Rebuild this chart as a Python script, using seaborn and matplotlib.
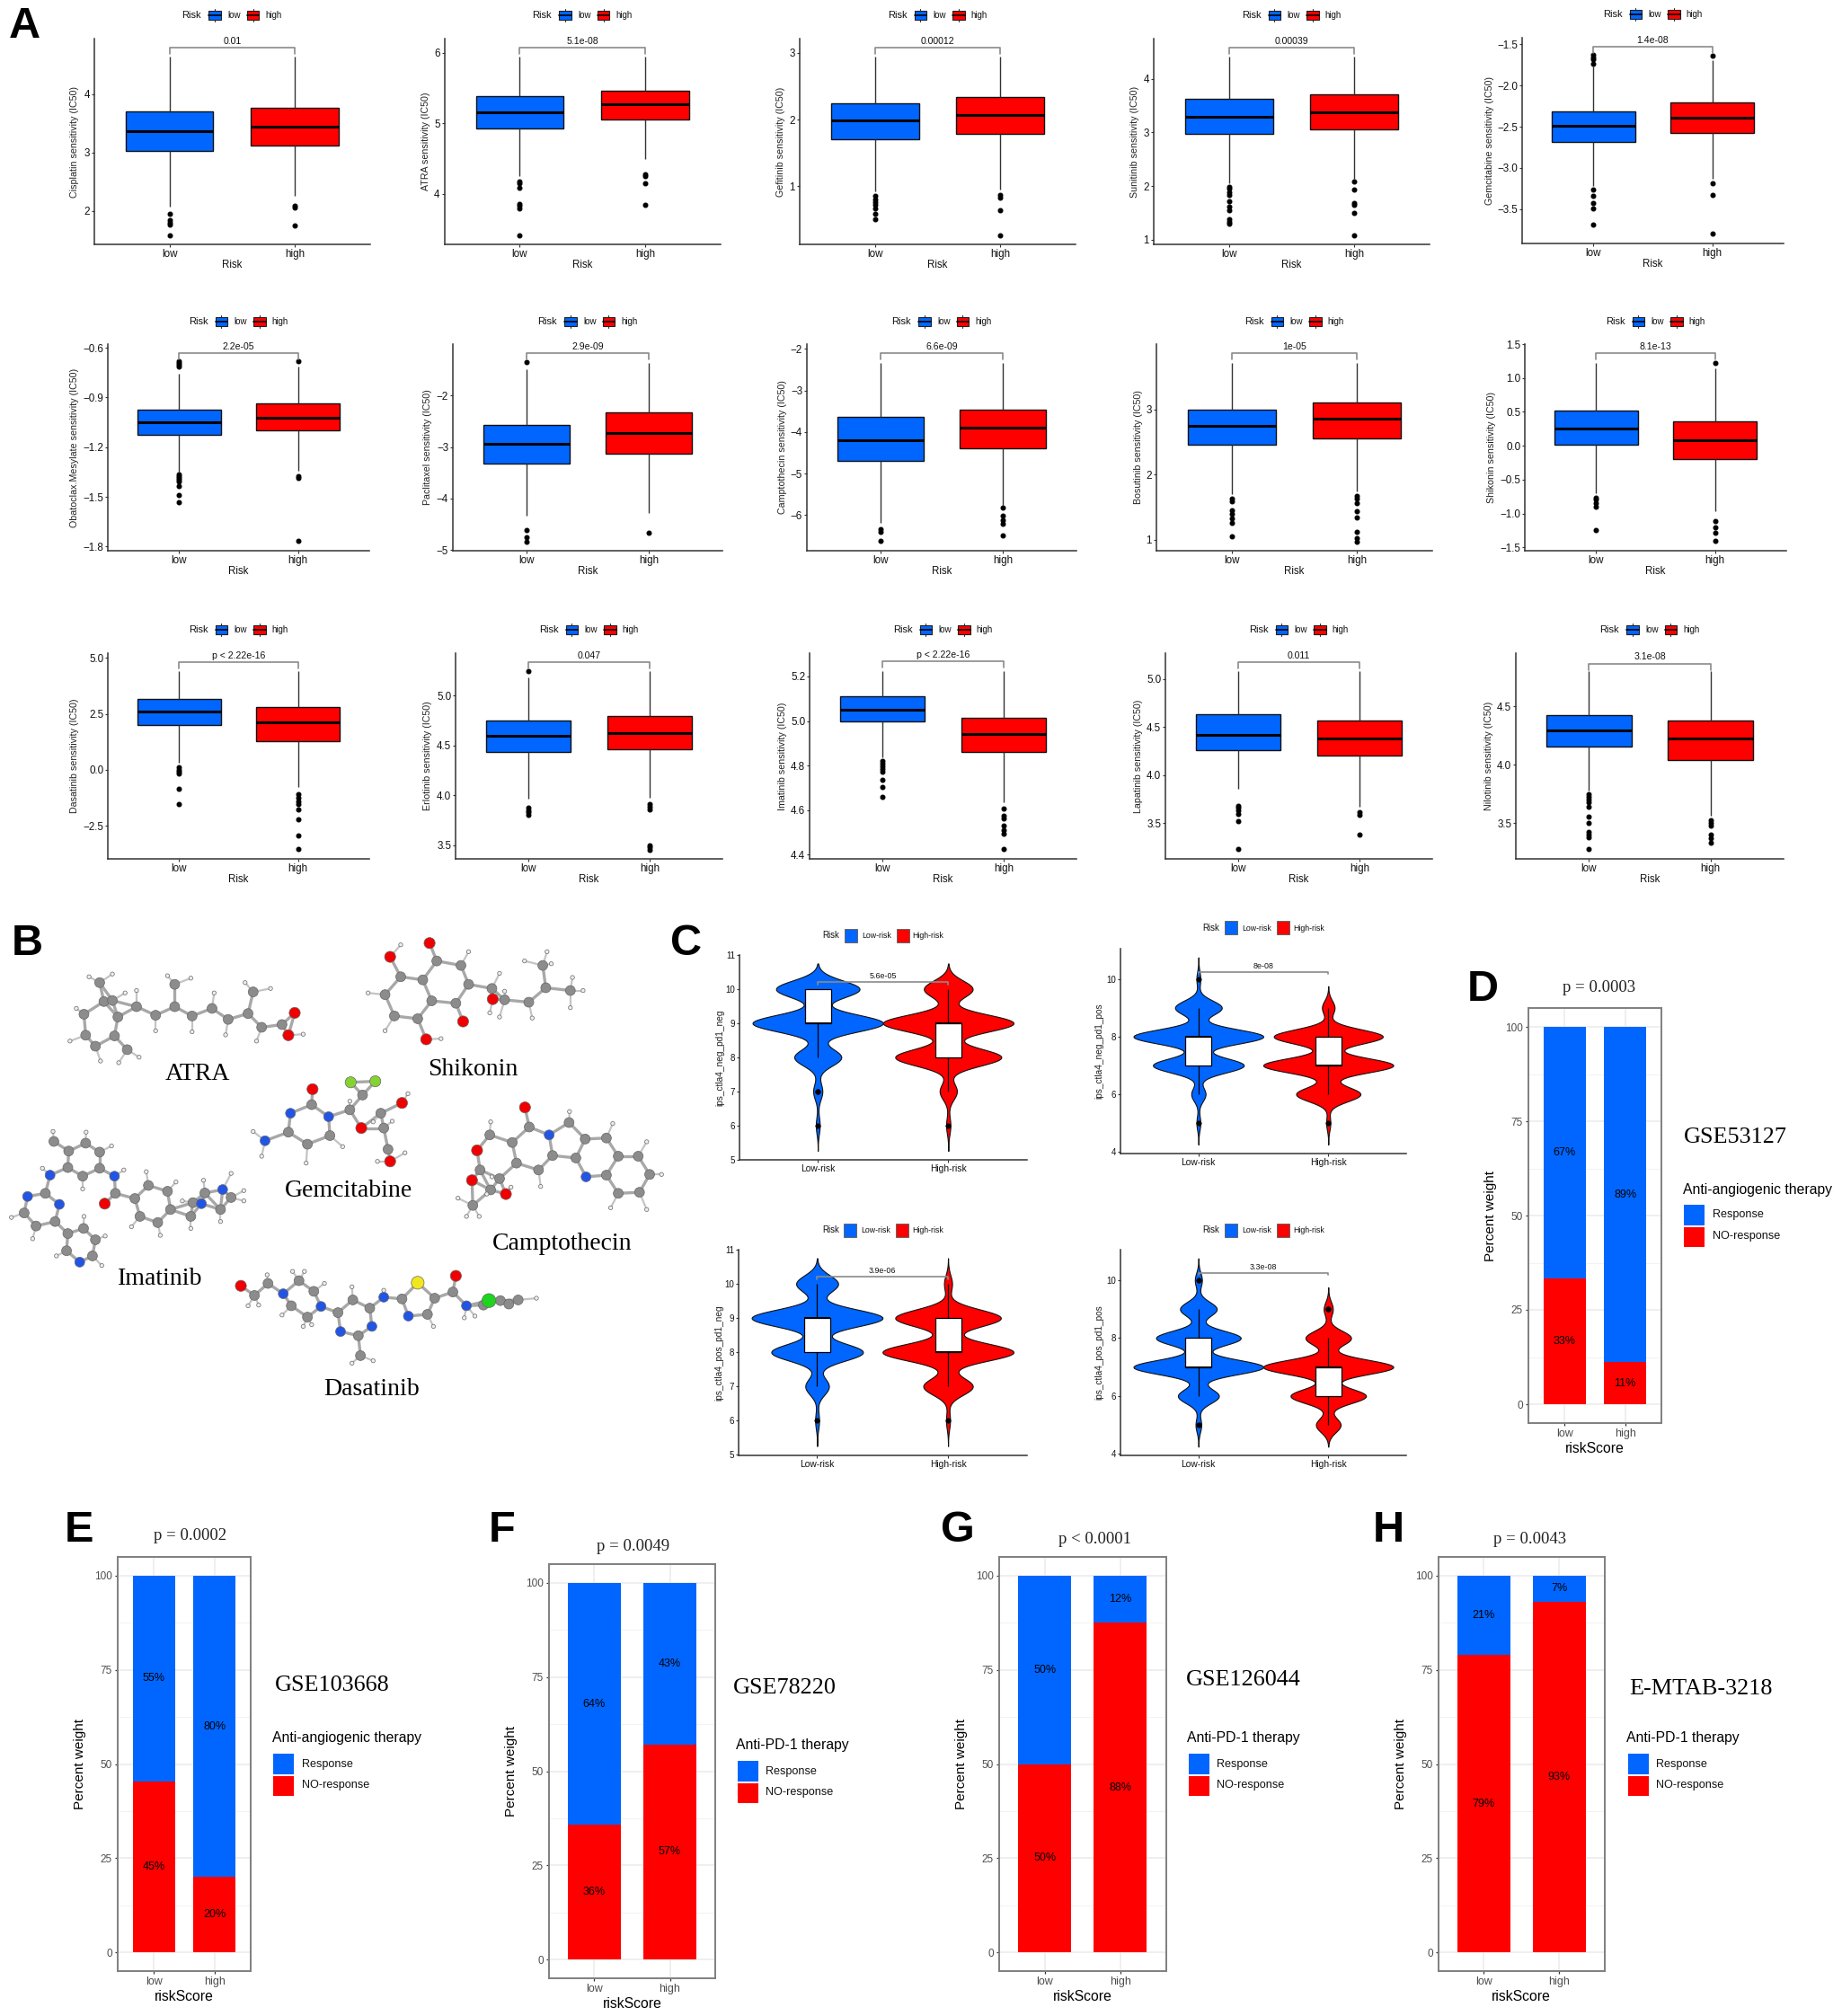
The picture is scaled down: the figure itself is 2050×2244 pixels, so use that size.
import numpy as np
import pandas as pd
import matplotlib
matplotlib.use("Agg")
import matplotlib.pyplot as plt
from matplotlib.patches import Rectangle
from matplotlib.lines import Line2D
import seaborn as sns

W, H = 2050, 2244
BLUE, RED = "#0066FF", "#FF0000"
SANS = ["Liberation Sans", "DejaVu Sans"]
SERIF = ["Liberation Serif", "DejaVu Serif"]

sns.set_theme(style="ticks")
plt.rcParams["font.family"] = SANS
plt.rcParams["axes.unicode_minus"] = True

# ---------------- panel A data -----------------
DRUGS = ["Cisplatin", "ATRA", "Gefitinib", "Sunitinib", "Gemcitabine",
         "Obatoclax.Mesylate", "Paclitaxel", "Camptothecin", "Bosutinib", "Shikonin",
         "Dasatinib", "Erlotinib", "Imatinib", "Lapatinib", "Nilotinib"]
P_LABELS = ["0.01", "5.1e-08", "0.00012", "0.00039", "1.4e-08",
            "2.2e-05", "2.9e-09", "6.6e-09", "1e-05", "8.1e-13",
            "p < 2.22e-16", "0.047", "p < 2.22e-16", "0.011", "3.1e-08"]
# whisker low, q1, median, q3, whisker high
LOW_STATS = [[2.07, 3.03, 3.364, 3.713, 4.646], [4.248, 4.928, 5.161, 5.386, 5.947],
             [0.919, 1.70, 1.987, 2.247, 2.946], [2.061, 2.972, 3.284, 3.627, 4.412],
             [-3.22, -2.681, -2.489, -2.315, -1.771],
             [-1.35, -1.125, -1.052, -0.973, -0.759], [-4.33, -3.326, -2.936, -2.58, -1.488],
             [-6.195, -4.686, -4.195, -3.632, -2.332], [1.703, 2.462, 2.752, 3.0, 3.717],
             [-0.704, 0.013, 0.257, 0.522, 1.226],
             [0.307, 1.992, 2.607, 3.168, 4.412], [3.964, 4.434, 4.599, 4.749, 5.186],
             [4.835, 4.996, 5.052, 5.112, 5.224], [3.854, 4.255, 4.422, 4.63, 5.08],
             [3.776, 4.156, 4.295, 4.426, 4.803]]
HIGH_STATS = [[2.25, 3.123, 3.45, 3.774, 4.646], [4.495, 5.059, 5.276, 5.467, 5.947],
              [0.955, 1.785, 2.067, 2.345, 2.946], [2.145, 3.06, 3.372, 3.71, 4.412],
              [-3.135, -2.579, -2.394, -2.205, -1.69],
              [-1.344, -1.10, -1.02, -0.935, -0.714], [-4.279, -3.128, -2.727, -2.337, -1.366],
              [-5.747, -4.397, -3.899, -3.473, -2.332], [1.749, 2.559, 2.853, 3.10, 3.717],
              [-0.96, -0.199, 0.088, 0.354, 1.146],
              [-0.762, 1.283, 2.112, 2.794, 4.412], [3.973, 4.461, 4.626, 4.796, 5.246],
              [4.633, 4.86, 4.941, 5.015, 5.224], [3.668, 4.201, 4.382, 4.571, 5.08],
              [3.559, 4.038, 4.226, 4.379, 4.803]]
LOW_FLIERS = [[1.95, 1.84, 1.79, 1.76, 1.585],
              [4.176, 4.146, 4.08, 3.851, 3.825, 3.796, 3.414],
              [.852, .807, .762, .717, .672, .583, .507],
              [1.98, 1.95, 1.894, 1.839, 1.716, 1.616, 1.544, 1.378, 1.339, 1.30],
              [-1.631, -1.656, -1.681, -1.735, -3.266, -3.334, -3.425, -3.49, -3.69],
              [-.683, -.694, -.705, -.716, -1.366, -1.375, -1.386, -1.397, -1.408, -1.434, -1.489, -1.53],
              [-1.36, -4.616, -4.744, -4.83],
              [-6.347, -6.397, -6.63],
              [1.634, 1.598, 1.451, 1.405, 1.336, 1.267, 1.06],
              [-.765, -.80, -.845, -.898, -1.239],
              [.12, 0, -.094, -.174, -.856, -1.551],
              [5.246, 3.877, 3.853, 3.83, 3.803],
              [4.82, 4.808, 4.795, 4.782, 4.772, 4.734, 4.704, 4.657],
              [3.685, 3.662, 3.631, 3.60, 3.519, 3.23],
              [3.745, 3.726, 3.70, 3.674, 3.641, 3.551, 3.503, 3.426, 3.40, 3.374, 3.274]]
HIGH_FLIERS = [[2.08, 2.06, 1.75],
               [4.283, 4.248, 4.146, 3.845],
               [.874, .83, .646, .269],
               [2.08, 1.934, 1.684, 1.66, 1.506, 1.089],
               [-1.635, -3.19, -3.325, -3.80],
               [-.68, -1.375, -1.387, -1.767],
               [-4.669],
               [-5.81, -6.02, -6.13, -6.215, -6.49],
               [1.68, 1.634, 1.566, 1.446, 1.35, 1.129, 1.023, .968],
               [1.226, -1.115, -1.199, -1.288, -1.407],
               [-1.11, -1.243, -1.404, -1.537, -1.765, -2.206, -2.928, -3.556],
               [3.913, 3.889, 3.862, 3.503, 3.479, 3.455],
               [4.605, 4.573, 4.56, 4.53, 4.508, 4.495, 4.424],
               [3.612, 3.584, 3.379],
               [3.522, 3.503, 3.478, 3.40, 3.367, 3.328]]
Y_LIMS = [(1.42, 4.954), (3.278, 6.204), (.126, 3.215), (.911, 4.746), (-3.917, -1.42),
          (-1.825, -.578), (-5.01, -1.006), (-6.859, -1.884), (.834, 4.002), (-1.549, 1.5),
          (-3.984, 5.214), (3.365, 5.425), (4.38, 5.305), (3.13, 5.267), (3.192, 4.956)]
Y_TICKS = [[2, 3, 4], [4, 5, 6], [1, 2, 3], [1, 2, 3, 4], [-3.5, -3, -2.5, -2, -1.5],
           [-1.8, -1.5, -1.2, -.9, -.6], [-5, -4, -3, -2], [-6, -5, -4, -3, -2], [1, 2, 3],
           [-1.5, -1, -.5, 0, .5, 1, 1.5],
           [-2.5, 0, 2.5, 5], [3.5, 4, 4.5, 5], [4.4, 4.6, 4.8, 5, 5.2], [3.5, 4, 4.5, 5], [3.5, 4, 4.5]]
Y_DECIMALS = [0, 0, 0, 0, 1, 1, 0, 0, 0, 1, 1, 1, 1, 1, 1]
BRACKETS = [4.805, 6.081, 3.085, 4.583, -1.528, -.631, -1.174, -2.094, 3.869, 1.372,
            4.826, 5.338, 5.27, 5.177, 4.867]

# pixel frames: left, right, top, bottom, ylabel offset
A_FRAMES = [(105, 411.6, 43, 272.3, 21.5), (494.6, 802, 43, 272.3, 20.6), (890, 1197, 43, 272.3, 21),
            (1284, 1591, 43, 272.3, 21), (1694, 1985, 42, 271, 36),
            (120, 411, 383, 613, 37.4), (504, 804, 383, 613, 28), (898, 1198, 383, 613, 27.5),
            (1287, 1594, 383, 613, 20.4), (1697, 1988, 383, 613, 37),
            (120, 411, 727, 956, 37.4), (507, 804, 727, 956, 31), (901, 1198, 727, 956, 30.5),
            (1297, 1594, 727, 956, 30.4), (1687, 1985, 727, 956, 30.5)]
A_LEGEND_Y = [17, 17, 17, 17, 16] + [358] * 5 + [701] * 5

# ---------------- panel C data (patient counts per integer score) -----------------
IPS_SCORES = [5, 6, 7, 8, 9, 10]
IPS_NAMES = ["ips_ctla4_neg_pd1_neg", "ips_ctla4_neg_pd1_pos", "ips_ctla4_pos_pd1_neg", "ips_ctla4_pos_pd1_pos"]
IPS_LOW = [[0, 3, 7, 36, 100, 64], [3, 11, 70, 100, 36, 3], [0, 3, 18, 70, 100, 32], [4, 29, 92, 60, 26, 5]]
IPS_HIGH = [[0, 3, 12, 74, 91, 34], [3, 46, 93, 78, 9, 0], [0, 3, 37, 98, 79, 6], [19, 58, 100, 35, 7, 0]]
IPS_P = ["5.6e-05", "8e-08", "3.9e-06", "3.3e-08"]
IPS_BRACKET = [10.2, 10.25, 10.2, 10.25]
IPS_YLIM = [(4.98, 11.0), (3.94, 11.05), (4.98, 11.0), (3.95, 11.05)]
IPS_YTICKS = [[5, 6, 7, 8, 9, 10, 11], [4, 6, 8, 10], [5, 6, 7, 8, 9, 10, 11], [4, 6, 8, 10]]
C_FRAMES = [(823, 1142.5, 1063, 1291.4, 22), (1247, 1565, 1056, 1284, 24),
            (822, 1142.5, 1391, 1620, 22), (1247, 1565, 1391, 1620, 24)]
C_LEGEND_Y = [1041, 1033, 1369, 1369]

# ---------------- panels D-H data -----------------
RISK_SCORE = ["low", "high"]
NO_RESPONSE = [[33.3, 11.1], [45.45, 20.0], [35.7, 57.1], [50.0, 87.5], [78.9, 93.1]]
RESPONSE = [[66.7, 88.9], [54.55, 80.0], [64.3, 42.9], [50.0, 12.5], [21.1, 6.9]]
P_TITLES = ["p = 0.0003", "p = 0.0002", "p = 0.0049", "p < 0.0001", "p = 0.0043"]
DATASETS = ["GSE53127", "GSE103668", "GSE78220", "GSE126044", "E-MTAB-3218"]
THERAPIES = ["Anti-angiogenic therapy", "Anti-angiogenic therapy", "Anti-PD-1 therapy", "Anti-PD-1 therapy", "Anti-PD-1 therapy"]
BAR_FRAMES = [(1701, 1849, 1122, 1584), (131, 279, 1733, 2194), (611, 796, 1741, 2202),
              (1112, 1297.5, 1733, 2194), (1601, 1785.5, 1733, 2194)]
BAR_OFFSETS = [(79, 22, 173, 144, 172, 173, 205), (81, 23, 175, 143, 172, 173, 205),
               (94, 19, 205, 138, 208, 210, 241), (106.5, 20, 208, 137, 209, 211, 242),
               (102, 19, 212, 147, 209, 211, 242)]

# ---------------- panel B data: atoms (zoom units) ---------------------------------------
ATRA = {"C": [(198, 337), (245, 300), (278, 345), (270, 400), (225, 430), (202, 398), (235, 245), (265, 297), (300, 440),
              (322, 315), (367, 340), (412, 315), (453, 342), (500, 320), (538, 352), (585, 335), (597, 272), (617, 375),
              (412, 250), (665, 367)],
        "O": [(695, 333), (680, 398)],
        "H": [(265, 220), (210, 228), (295, 275), (180, 320), (165, 415), (237, 473), (280, 478), (328, 462), (322, 268),
              (367, 385), (395, 225), (450, 232), (453, 388), (505, 275), (532, 397), (578, 245), (638, 262), (605, 415), (715, 395)]}
SHIKONIN = {"C": [(945, 228), (997, 237), (1030, 182), (1087, 195), (1105, 250), (1075, 305), (1018, 298), (985, 350), (930, 342),
                  (908, 280), (1160, 262), (1190, 295), (1247, 302), (1287, 260), (1280, 195), (1345, 268)],
            "O": [(920, 170), (1013, 130), (1092, 358), (1005, 410), (1162, 293)],
            "H": [(945, 135), (1105, 155), (868, 275), (908, 385), (1040, 408), (1178, 218), (1155, 333), (1178, 345), (1190, 270),
                  (1255, 348), (1237, 182), (1290, 155), (1300, 190), (1350, 230), (1375, 268), (1345, 318)]}
GEMCITABINE = {"C": [(735, 600), (680, 680), (725, 715), (778, 690), (825, 615), (855, 572), (898, 625), (905, 668), (915, 730)],
               "N": [(685, 625), (775, 635), (625, 705)],
               "O": [(737, 555), (852, 668), (948, 595), (920, 765)],
               "F": [(827, 535), (885, 532)],
               "H": [(597, 678), (617, 750), (722, 770), (808, 722), (825, 590), (962, 568), (880, 650), (925, 648), (955, 740), (890, 765)]}
CAMPTOTHECIN = {"C": [(1155, 688), (1208, 710), (1248, 665), (1218, 770), (1270, 790), (1303, 748), (1342, 652), (1380, 700), (1430, 697),
                      (1358, 755), (1430, 805), (1458, 750), (1505, 750), (1532, 803), (1508, 855), (1458, 858), (1132, 790), (1178, 815),
                      (1157, 848), (1115, 893)],
                "N": [(1295, 688), (1382, 810)],
                "O": [(1238, 608), (1125, 733), (1113, 820), (1193, 860)],
                "H": [(1157, 650), (1343, 620), (1445, 655), (1525, 708), (1560, 803), (1525, 905), (1440, 900), (1275, 838), (1080, 872),
                      (1100, 925), (1130, 925), (1160, 810), (1148, 860), (1205, 840)]}
IMATINIB = {"C": [(127, 707), (162, 735), (202, 712), (235, 738), (235, 785), (195, 808), (160, 783), (107, 858), (57, 915), (85, 953),
                  (130, 940), (160, 975), (157, 1025), (197, 960), (225, 993), (218, 1040), (272, 858), (318, 873), (350, 835), (395, 852),
                  (402, 905), (372, 943), (330, 925), (450, 925), (455, 885), (483, 857), (520, 905), (545, 870)],
            "N": [(118, 805), (65, 867), (140, 890), (270, 808), (475, 888), (525, 847), (188, 1058)],
            "O": [(247, 888)],
            "H": [(125, 678), (203, 680), (263, 720), (195, 845), (100, 785), (292, 790), (345, 795), (415, 825), (378, 980), (310, 955),
                  (27, 928), (77, 990), (133, 1040), (198, 925), (248, 982), (240, 1068), (450, 960), (430, 880), (480, 820), (520, 940),
                  (545, 800), (575, 850), (575, 880)]}
DASATINIB = {"C": [(632, 1120), (600, 1155), (705, 1112), (740, 1143), (725, 1218), (687, 1185), (797, 1205), (845, 1272), (872, 1192),
                   (832, 1168), (948, 1165), (1008, 1210), (1025, 1163), (1068, 1145), (1140, 1183), (1180, 1170), (1222, 1168), (1200, 1180), (850, 1330)],
             "N": [(668, 1150), (757, 1187), (803, 1260), (877, 1245), (905, 1160), (963, 1215), (1100, 1185)],
             "O": [(568, 1127), (1075, 1098)],
             "S": [(985, 1118)],
             "Cl": [(1153, 1170)],
             "H": [(630, 1095), (690, 1085), (718, 1085), (765, 1120), (665, 1212), (715, 1245), (735, 1240), (830, 1130), (905, 1140),
                   (1022, 1245), (1095, 1220), (1120, 1215), (1265, 1163), (830, 1352), (880, 1345), (585, 1185), (610, 1183)]}
MOLECULES = [ATRA, SHIKONIN, GEMCITABINE, CAMPTOTHECIN, IMATINIB, DASATINIB]
MOL_NAMES = ["ATRA", "Shikonin", "Gemcitabine", "Camptothecin", "Imatinib", "Dasatinib"]
MOL_LABEL_XY = [(467, 512), (1115, 497), (822, 850), (1325, 1005), (378, 1107), (877, 1428)]
ATOM_COLORS = {"C": "#8C8C8C", "N": "#2255E6", "O": "#F00000", "F": "#86D232", "S": "#F2E61E", "Cl": "#1FD41F", "H": "#EEEEEE"}
ATOM_SIZES = {"C": 62, "N": 62, "O": 78, "F": 78, "S": 105, "Cl": 125, "H": 10}

LETTERS = [("A", 10, 42), ("B", 13, 1063), ("C", 746, 1063), ("D", 1633, 1114), ("E", 72, 1716),
           ("F", 544, 1716), ("G", 1047, 1716), ("H", 1528, 1716)]

# ---------------- helpers -----------------
fig = plt.figure(figsize=(W / 100, H / 100), dpi=100, facecolor="white")


def ax_px(l, r, t, b):
    return fig.add_axes([l / W, 1 - b / H, (r - l) / W, (b - t) / H])


def ftext(x, y, s, **kw):
    kw.setdefault("va", "center")
    return fig.text(x / W, 1 - y / H, s, **kw)


def rect(x0, x1, y0, y1, **kw):
    fig.add_artist(Rectangle((x0 / W, 1 - y1 / H), (x1 - x0) / W, (y1 - y0) / H, transform=fig.transFigure, **kw))


def hline(x0, x1, y0, y1, **kw):
    fig.add_artist(Line2D([x0 / W, x1 / W], [1 - y0 / H, 1 - y1 / H], transform=fig.transFigure, **kw))


def box_legend(cx, y):
    ftext(cx - 45, y, "Risk", ha="center", fontsize=8, color="#111111")
    for off, col, lab, lx in [(-26, BLUE, "low", -5), (16.5, RED, "high", 37)]:
        hline(cx + off + 6.7, cx + off + 6.7, y - 7, y + 7, color="#333333", lw=0.8)
        rect(cx + off, cx + off + 13.5, y - 5, y + 5, facecolor=col, edgecolor="#222222", lw=0.8, zorder=3)
        hline(cx + off, cx + off + 13.5, y, y, color="black", lw=1.2, zorder=4)
        ftext(cx + lx, y, lab, ha="left", fontsize=7, color="#111111")


def violin_legend(cx, y):
    ftext(cx - 58, y, "Risk", ha="center", fontsize=6.9, color="#111111")
    for off, col, lab, lx in [(-43, BLUE, "Low-risk", -24), (15, RED, "High-risk", 33)]:
        rect(cx + off, cx + off + 14, y - 7.5, y + 7.5, facecolor=col, edgecolor="#666666", lw=0.7)
        ftext(cx + lx, y, lab, ha="left", fontsize=6.3, color="#111111")


def style_axis(ax, ticksize):
    sns.despine(ax=ax)
    ax.set_xlim(-0.6, 1.6)
    for s in ["left", "bottom"]:
        ax.spines[s].set_linewidth(1.1)
        ax.spines[s].set_color("#333333")
    ax.tick_params(axis="both", length=2.5, width=0.8, pad=1, color="#333333", labelcolor="#111111", labelsize=ticksize)


def bracket(ax, y, span, text, size):
    ax.plot([0, 0, 1, 1], [y - span, y, y, y - span], color="#8A8A8A", lw=1.2, clip_on=False)
    ax.annotate(text, xy=(0.5, y), xytext=(0, 1.5), textcoords="offset points", ha="center", va="bottom",
                fontsize=size, color="#111111")


# ---------------- panel A -----------------
RISK = ["low", "high"]
for i, drug in enumerate(DRUGS):
    l, r, t, b, ylab = A_FRAMES[i]
    ax = ax_px(l, r, t, b)
    rows = []
    for name, st, fl in [("low", LOW_STATS[i], LOW_FLIERS[i]), ("high", HIGH_STATS[i], HIGH_FLIERS[i])]:
        vals = [st[0], st[4]] + list(fl) + [st[1]] * 200 + [st[2]] * 200 + [st[3]] * 200
        rows.append(pd.DataFrame({"Risk": name, "IC50": vals}))
    df = pd.concat(rows, ignore_index=True)
    sns.boxplot(data=df, x="Risk", y="IC50", hue="Risk", order=RISK, hue_order=RISK,
                palette={"low": BLUE, "high": RED}, saturation=1, width=0.7, dodge=False, legend=False,
                linecolor="#111111", linewidth=1.0, showcaps=False, ax=ax,
                medianprops=dict(color="black", linewidth=2.2),
                whiskerprops=dict(color="#333333", linewidth=1.0),
                flierprops=dict(marker="o", markerfacecolor="black", markeredgecolor="black", markersize=3.3))
    style_axis(ax, 8.4)
    ax.set_ylim(*Y_LIMS[i])
    ax.set_yticks(Y_TICKS[i])
    ax.set_yticklabels([f"{v:.{Y_DECIMALS[i]}f}".replace("-", "\u2212") for v in Y_TICKS[i]])
    ax.set_xlabel("Risk", fontsize=8.3, color="#111111", va="center")
    ax.xaxis.set_label_coords(0.5, -23 / (b - t))
    ax.set_ylabel(f"{drug} sensitivity (IC50)", fontsize=7.7, color="#222222", va="center")
    ax.yaxis.set_label_coords(-ylab / (r - l), 0.5)
    y0, y1 = Y_LIMS[i]
    bracket(ax, BRACKETS[i], 7 / (b - t) * (y1 - y0), P_LABELS[i], 7.6)
    box_legend((l + r) / 2, A_LEGEND_Y[i])

# ---------------- panel C -----------------
bw_fixed = lambda k: 0.25 / np.std(k.dataset, ddof=1)
RISK_C = ["Low-risk", "High-risk"]
for i, name in enumerate(IPS_NAMES):
    l, r, t, b, ylab = C_FRAMES[i]
    ax = ax_px(l, r, t, b)
    low = np.repeat(IPS_SCORES, IPS_LOW[i])
    high = np.repeat(IPS_SCORES, IPS_HIGH[i])
    df = pd.DataFrame({"Risk": ["Low-risk"] * len(low) + ["High-risk"] * len(high),
                       "score": np.concatenate([low, high]).astype(float)})
    sns.violinplot(data=df, x="Risk", y="score", hue="Risk", order=RISK_C, hue_order=RISK_C,
                   palette={"Low-risk": BLUE, "High-risk": RED}, saturation=1, density_norm="area",
                   bw_method=bw_fixed, cut=3, gridsize=200, inner=None, width=1.0, dodge=False, legend=False,
                   linecolor="#111111", linewidth=0.8, ax=ax)
    sns.boxplot(data=df, x="Risk", y="score", order=RISK_C, color="white", saturation=1, width=0.2,
                linecolor="black", linewidth=0.9, showcaps=False, ax=ax,
                medianprops=dict(color="black", linewidth=1.4),
                flierprops=dict(marker="o", markerfacecolor="black", markeredgecolor="black", markersize=3))
    style_axis(ax, 7)
    ax.set_ylim(*IPS_YLIM[i])
    ax.set_yticks(IPS_YTICKS[i])
    ax.tick_params(axis="x", labelsize=7.4)
    ax.set_xlabel("")
    ax.set_ylabel(name, fontsize=7.3, color="#222222", va="center")
    ax.yaxis.set_label_coords(-ylab / (r - l), 0.5)
    bracket(ax, IPS_BRACKET[i], 0.08, IPS_P[i], 6.4)
    violin_legend((l + r) / 2, C_LEGEND_Y[i])

# ---------------- panels D-H -----------------
for i in range(5):
    l, r, t, b = BAR_FRAMES[i]
    tx, ty, gx, gy, ltx, kx, lx = BAR_OFFSETS[i]
    ax = ax_px(l, r, t, b)
    ax.set_axisbelow(True)
    df = pd.DataFrame({"riskScore": RISK_SCORE, "no": NO_RESPONSE[i], "yes": RESPONSE[i]})
    sns.barplot(data=df, x="riskScore", y="no", color=RED, saturation=1, width=0.7, linewidth=0, edgecolor="none", ax=ax)
    sns.barplot(data=df, x="riskScore", y="yes", bottom=df["no"].to_numpy(), color=BLUE, saturation=1, width=0.7,
                linewidth=0, edgecolor="none", ax=ax)
    ax.set_xlim(-0.6, 1.6)
    ax.set_ylim(-5, 105)
    ax.set_yticks([0, 25, 50, 75, 100])
    ax.set_yticks([12.5, 37.5, 62.5, 87.5], minor=True)
    ax.grid(which="major", color="#EBEBEB", lw=1.1)
    ax.grid(which="minor", axis="y", color="#F0F0F0", lw=0.6)
    ax.tick_params(which="minor", length=0)
    ax.tick_params(which="major", length=2.5, width=0.9, color="#333333", labelcolor="#4D4D4D", pad=2)
    ax.tick_params(axis="y", labelsize=8.5)
    ax.tick_params(axis="x", labelsize=9)
    for s in ax.spines.values():
        s.set_color("#7F7F7F")
        s.set_linewidth(1.4)
    for j in range(2):
        no, yes = NO_RESPONSE[i][j], RESPONSE[i][j]
        ax.text(j, no / 2, f"{no:.0f}%", ha="center", va="center", fontsize=9, color="black")
        ax.text(j, no + yes / 2, f"{yes:.0f}%", ha="center", va="center", fontsize=9, color="black")
    ax.set_xlabel("riskScore", fontsize=11.3, color="black", va="center")
    ax.xaxis.set_label_coords(0.5, -28.5 / (b - t))
    ax.set_ylabel("Percent weight", fontsize=11, color="black", va="center")
    ax.yaxis.set_label_coords(-42 / (r - l), 0.5)
    ftext(l + tx, t - ty, P_TITLES[i], ha="center", family=SERIF, fontsize=13.5, color="#222222")
    ftext(l + gx, t + gy, DATASETS[i], ha="left", family=SERIF, fontsize=18.8, color="black")
    ftext(l + ltx, t + 202, THERAPIES[i], ha="left", fontsize=11.3, color="black")
    rect(l + kx, l + kx + 23, t + 219, t + 242, facecolor=BLUE, edgecolor="none")
    rect(l + kx, l + kx + 23, t + 243.5, t + 266, facecolor=RED, edgecolor="none")
    ftext(l + lx, t + 230.5, "Response", ha="left", fontsize=9.1, color="#111111")
    ftext(l + lx, t + 254, "NO-response", ha="left", fontsize=9.1, color="#111111")

# ---------------- panel B -----------------
axb = ax_px(0, 740, 1000, 1600)
SCALE = np.array([1568 / 740, 1568 / 600])  # zoom units per pixel
for mol in MOLECULES:
    hp = np.array([p for e, pts in mol.items() if e != "H" for p in pts], dtype=float)
    for a in range(len(hp)):
        for c in range(a + 1, len(hp)):
            if np.hypot(*((hp[a] - hp[c]) / SCALE)) < 28:
                axb.plot(hp[[a, c], 0], hp[[a, c], 1], color="#A8A8A8", lw=2.4, solid_capstyle="round", zorder=1)
    for p in mol.get("H", []):
        near = hp[np.argmin(np.hypot(*((hp - np.array(p)) / SCALE).T))]
        axb.plot([p[0], near[0]], [p[1], near[1]], color="#C4C4C4", lw=1.6, zorder=1)
    atoms = pd.DataFrame([{"x": p[0], "y": p[1], "el": e} for e, pts in mol.items() for p in pts])
    sns.scatterplot(data=atoms, x="x", y="y", hue="el", palette=ATOM_COLORS, size="el", sizes=ATOM_SIZES,
                    legend=False, edgecolor="#666666", linewidth=0.5, zorder=2, ax=axb)
for name, (x, y) in zip(MOL_NAMES, MOL_LABEL_XY):
    axb.text(x, y, name, ha="center", va="center", family=SERIF, fontsize=20, color="black")
axb.set_xlim(0, 1568)
axb.set_ylim(1568, 0)
axb.axis("off")

# ---------------- letters -----------------
for s, x, y in LETTERS:
    ftext(x, y, s, ha="left", va="baseline", fontsize=35, fontweight="bold", color="black")

fig.savefig("out.png", dpi=100, facecolor="white")
